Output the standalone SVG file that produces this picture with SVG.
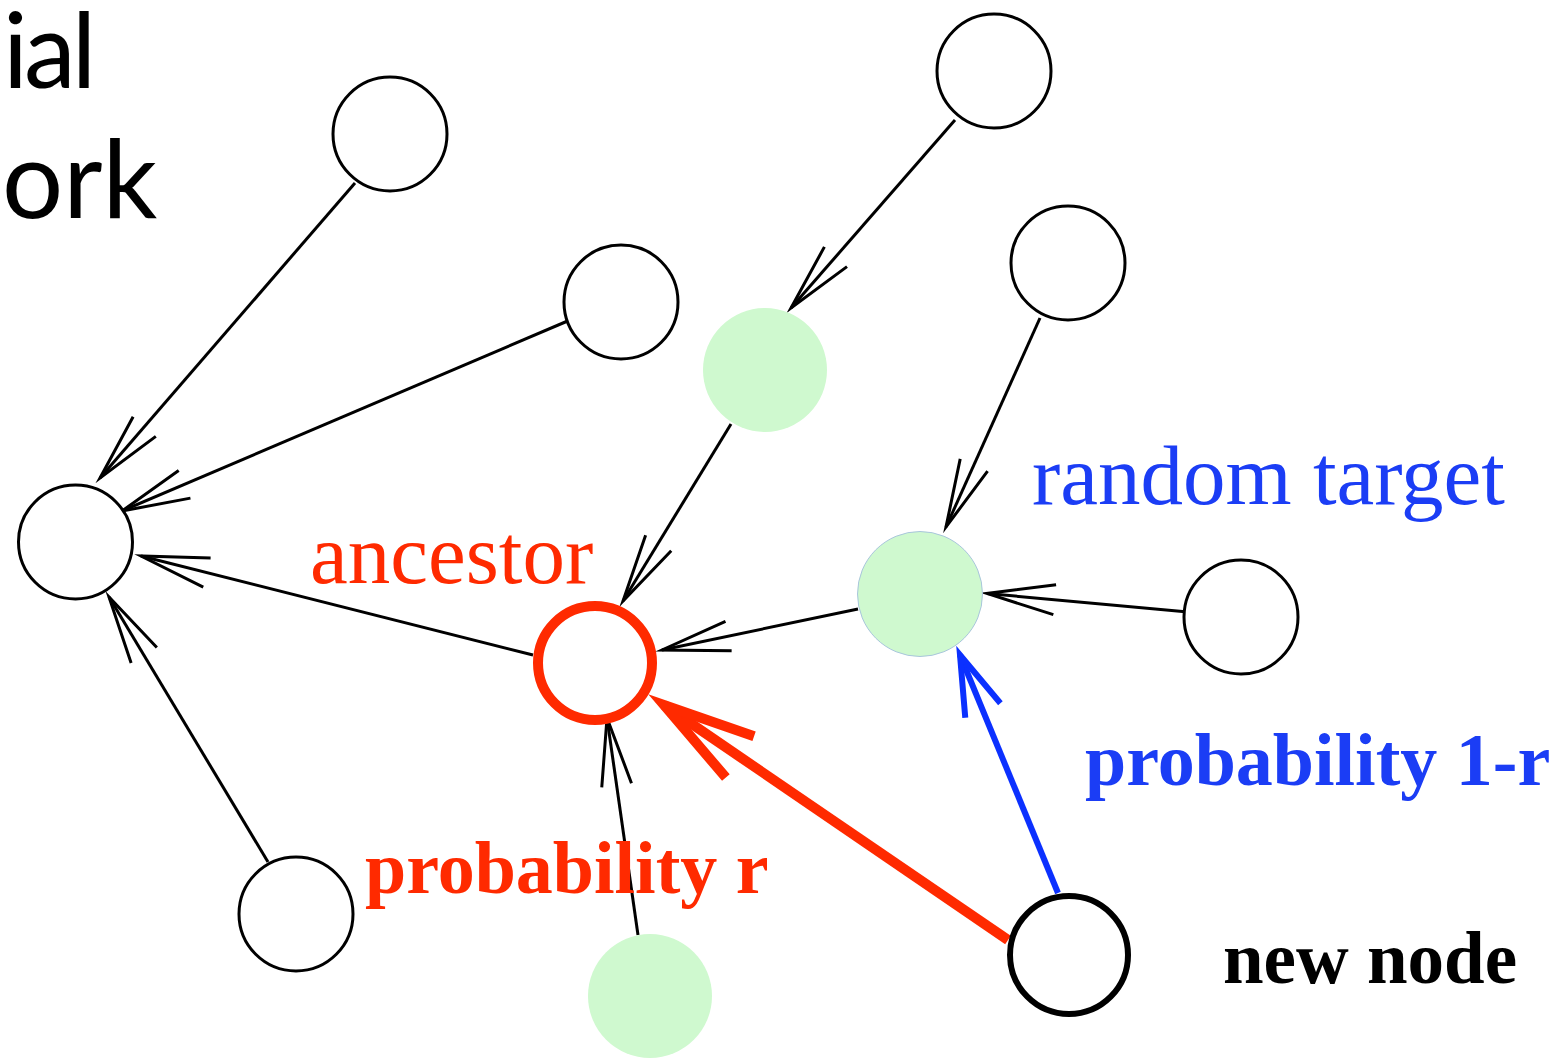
<svg xmlns="http://www.w3.org/2000/svg" width="1561" height="1059" viewBox="0 0 1561 1059">
<style>
.node{fill:#fff;stroke:#000;stroke-width:3}
.green{fill:#cff9cf;stroke:none}
.edge{stroke:#000;stroke-width:3;fill:none}
.serif{font-family:"Liberation Serif","Times New Roman",serif}
.sans{font-family:Lato,"Open Sans",sans-serif}
</style>
<defs>
<marker id="ah" markerUnits="userSpaceOnUse" orient="auto" refX="0" refY="0" markerWidth="200" markerHeight="200" viewBox="-100 -100 200 200" overflow="visible">
<path d="M-68,-15 L0,0 L-68,15" fill="none" stroke="#000" stroke-width="3" stroke-miterlimit="10"/>
</marker>
<marker id="ahRed" markerUnits="userSpaceOnUse" orient="auto" refX="0" refY="0" markerWidth="300" markerHeight="300" viewBox="-150 -150 300 300" overflow="visible">
<path d="M-92,-25 L0,0 L-92,25" fill="none" stroke="#ff2a00" stroke-width="10" stroke-miterlimit="10"/>
</marker>
<marker id="ahBlue" markerUnits="userSpaceOnUse" orient="auto" refX="0" refY="0" markerWidth="200" markerHeight="200" viewBox="-100 -100 200 200" overflow="visible">
<path d="M-60,-19 L0,0 L-60,19" fill="none" stroke="#0b30ff" stroke-width="6" stroke-miterlimit="10"/>
</marker>
</defs>
<rect width="1561" height="1059" fill="#fff"/>

<g id="title" class="sans" fill="#000">
<text x="3" y="88" font-size="104" letter-spacing="-4">ial</text>
<text x="2" y="218" font-size="108">ork</text>
</g>

<g id="connectors">
<line class="edge" x1="355" y1="183" x2="100" y2="478" marker-end="url(#ah)"/>
<line class="edge" x1="570" y1="320" x2="122" y2="511" marker-end="url(#ah)"/>
<line class="edge" x1="533" y1="655" x2="141" y2="556" marker-end="url(#ah)"/>
<line class="edge" x1="268" y1="862" x2="109" y2="597" marker-end="url(#ah)"/>
<line class="edge" x1="955" y1="120" x2="791" y2="308" marker-end="url(#ah)"/>
<line class="edge" x1="731" y1="424" x2="623" y2="601" marker-end="url(#ah)"/>
<line class="edge" x1="1040" y1="318" x2="946" y2="527" marker-end="url(#ah)"/>
<line class="edge" x1="858" y1="609" x2="662" y2="650" marker-end="url(#ah)"/>
<line class="edge" x1="1188" y1="612" x2="987" y2="593.5" marker-end="url(#ah)"/>
<line class="edge" x1="638" y1="935" x2="607" y2="718" marker-end="url(#ah)"/>
<line x1="1008" y1="940" x2="664" y2="705" stroke="#ff2a00" stroke-width="10" marker-end="url(#ahRed)"/>
<line x1="1058" y1="893" x2="960" y2="655" stroke="#0b30ff" stroke-width="6" marker-end="url(#ahBlue)"/>
</g>

<g id="node-a"><circle class="node" cx="390" cy="134" r="57"/></g>
<g id="node-b"><circle class="node" cx="621" cy="302" r="57"/></g>
<g id="node-c"><circle class="node" cx="994" cy="71" r="57"/></g>
<g id="node-d"><circle class="node" cx="1068" cy="263" r="57"/></g>
<g id="node-e"><circle class="green" cx="765" cy="370" r="62"/></g>
<g id="node-left"><circle class="node" cx="75.5" cy="542" r="57"/></g>
<g id="node-ancestor"><circle cx="595" cy="663" r="57" fill="#fff" stroke="#ff2a00" stroke-width="10"/></g>
<g id="node-target"><circle cx="920" cy="594" r="62.5" fill="#cff9cf" stroke="#a9c6dc" stroke-width="1"/></g>
<g id="node-right"><circle class="node" cx="1241" cy="617" r="57"/></g>
<g id="node-bottomleft"><circle class="node" cx="296" cy="914" r="57"/></g>
<g id="node-g"><circle class="green" cx="650" cy="996" r="62"/></g>
<g id="node-new"><circle cx="1069" cy="955" r="59" fill="#fff" stroke="#000" stroke-width="6"/></g>

<g id="labels" class="serif">
<text x="310" y="583" font-size="85" fill="#ff2a00">ancestor</text>
<text x="1032" y="504" font-size="85" fill="#1b3df5">random target</text>
<text x="1085" y="785" font-size="74" font-weight="bold" fill="#1b3df5">probability 1-r</text>
<text x="365" y="893" font-size="74" font-weight="bold" fill="#ff2a00">probability r</text>
<text x="1223" y="983" font-size="73" font-weight="bold" fill="#000">new node</text>
</g>
</svg>
